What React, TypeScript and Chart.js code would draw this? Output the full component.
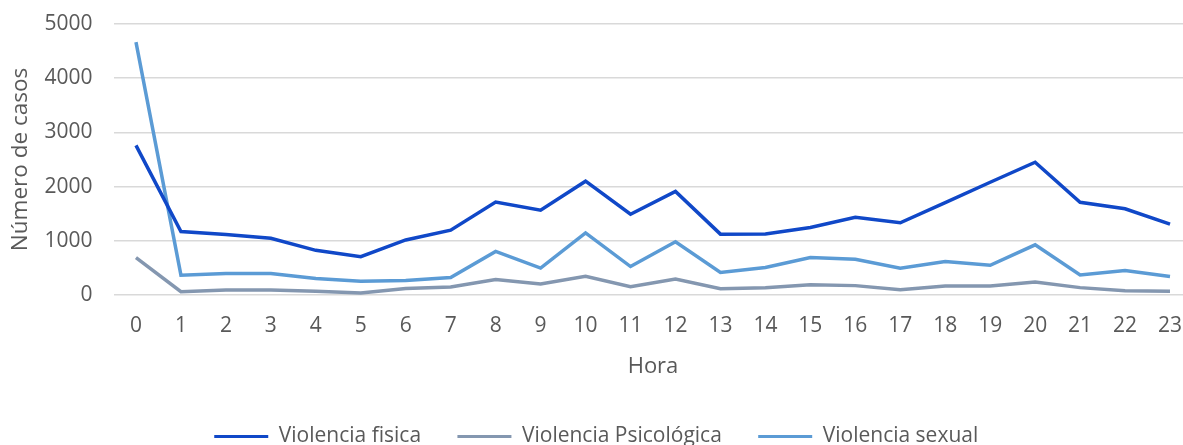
import React, { useEffect, useRef } from "react";
import { Chart, registerables } from "chart.js";

Chart.register(...registerables);

const hours = ["0","1","2","3","4","5","6","7","8","9","10","11","12","13","14","15","16","17","18","19","20","21","22","23"];
const violenciaFisica = [2760, 1170, 1115, 1047, 824, 706, 1016, 1196, 1716, 1565, 2100, 1490, 1910, 1123, 1126, 1245, 1432, 1333, 1705, 2080, 2450, 1710, 1590, 1309];
const violenciaPsicologica = [688, 62, 93, 93, 68, 37, 118, 149, 285, 204, 344, 154, 296, 117, 136, 191, 173, 99, 167, 167, 241, 136, 80, 68];
const violenciaSexual = [4665, 366, 397, 397, 304, 254, 266, 322, 805, 496, 1147, 525, 981, 414, 506, 691, 660, 494, 617, 549, 926, 370, 451, 340];

const seriesNames = ["Violencia fisica", "Violencia Psicológica", "Violencia sexual"];
const seriesColors = ["#1048C8", "#8497B0", "#5B9BD5"];

const FONT = "'Open Sans', sans-serif";
const TEXT = "#595959";

export default function App() {
  const ref = useRef<HTMLCanvasElement | null>(null);
  useEffect(() => {
    document.body.style.margin = "0";
    const canvas = ref.current;
    if (!canvas) return;
    const data = [violenciaFisica, violenciaPsicologica, violenciaSexual];
    const chart = new Chart(canvas, {
      type: "line",
      data: {
        labels: hours,
        datasets: data.map((d, i) => ({
          label: seriesNames[i],
          data: d,
          borderColor: seriesColors[i],
          backgroundColor: seriesColors[i],
          borderWidth: 3.5,
          pointRadius: 0,
          tension: 0,
          fill: false,
        })),
      },
      options: {
        animation: false,
        responsive: false,
        devicePixelRatio: 1,
        layout: { padding: { top: 24, right: 7.5, left: 0, bottom: 0 } },
        plugins: {
          tooltip: { enabled: false },
          legend: {
            position: "bottom",
            labels: {
              boxWidth: 54,
              boxHeight: 3,
              padding: 20,
              color: TEXT,
              font: { family: FONT, size: 21 },
              generateLabels: (c: any) =>
                c.data.datasets.map((ds: any, i: number, arr: any[]) => ({
                  text: i < arr.length - 1 ? ds.label + "\u00A0\u00A0\u00A0" : ds.label,
                  fillStyle: ds.borderColor,
                  strokeStyle: ds.borderColor,
                  lineWidth: 0,
                  fontColor: TEXT,
                  hidden: false,
                  datasetIndex: i,
                })),
            },
          },
        },
        scales: {
          x: {
            offset: true,
            grid: { display: false },
            border: { display: false },
            ticks: { color: TEXT, font: { family: FONT, size: 21 }, padding: 10, maxRotation: 0, autoSkip: false },
            title: { display: true, text: "Hora", color: TEXT, font: { family: FONT, size: 22 }, padding: { top: 0, bottom: 25.8 } },
            afterFit: (s: any) => { s.height = 111; },
          },
          y: {
            min: 0,
            max: 5000,
            grid: { color: "#d9d9d9", lineWidth: 1.5, drawTicks: false },
            border: { display: false },
            ticks: { stepSize: 1000, color: TEXT, font: { family: FONT, size: 21 }, padding: 21, callback: (v: any) => String(v) },
            title: { display: true, text: "Número de casos", color: TEXT, font: { family: FONT, size: 22.5 }, padding: { top: 7, bottom: 0 } },
            afterFit: (s: any) => { s.width = 113.5; s.paddingTop = 0; s.paddingBottom = 0; },
          },
        },
      },
    });
    return () => chart.destroy();
  }, []);
  return (
    <div style={{ width: 1183, height: 445, overflow: "hidden", position: "relative", background: "#fff" }}>
      <canvas ref={ref} width={1200} height={457} style={{ display: "block" }} />
    </div>
  );
}
